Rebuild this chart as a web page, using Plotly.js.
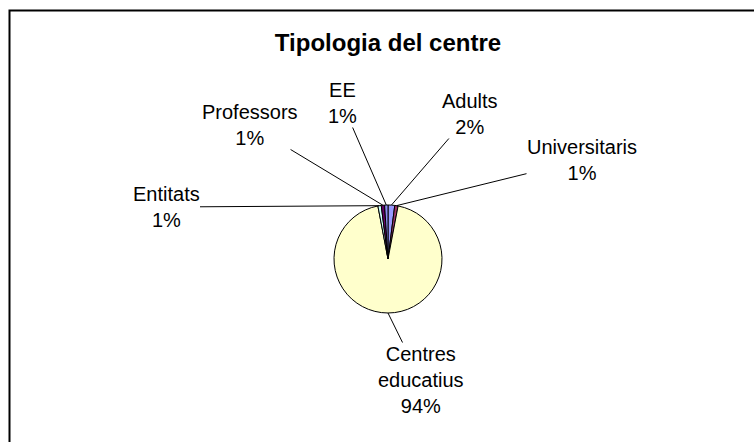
<!DOCTYPE html>
<html>
<head>
<meta charset="utf-8">
<script src="https://cdn.plot.ly/plotly-3.0.1.min.js"></script>
<style>
  html, body { margin: 0; padding: 0; background: #fff; }
  #chart { width: 754px; height: 442px; }
</style>
</head>
<body>
<div id="chart"></div>
<script>
// ---- Data ----
const categories = ["Adults", "Universitaris", "Centres educatius", "Entitats", "Professors", "EE"];
const labelText  = ["Adults", "Universitaris", "Centres<br>educatius", "Entitats", "Professors", "EE"];
const values     = [2, 1, 94, 1, 1, 1];
const sliceColors = ["#9999FF", "#993366", "#FFFFCC", "#CCFFFF", "#660066", "#8C8CF0"];
const chartTitle = "Tipologia del centre";

// ---- Layout geometry (pixels) ----
const W = 754, H = 442;
const cx = 388, cy = 259, R = 54;
// label block centres (layout positions)
const labelPos = [
  [470, 114],  // Adults
  [582, 160],  // Universitaris
  [421, 380],  // Centres educatius
  [166, 207],  // Entitats
  [250, 125],  // Professors
  [342, 103]   // EE
];

const total = values.reduce((a, b) => a + b, 0);
const annotations = [];
let cum = 0;
values.forEach((v, i) => {
  const theta = 2 * Math.PI * (cum + v / 2) / total; // clockwise from 12 o'clock
  cum += v;
  const px = cx + R * Math.sin(theta);
  const py = cy - R * Math.cos(theta);
  const pct = Math.round(100 * v / total) + "%";
  annotations.push({
    x: px / W, y: 1 - py / H, xref: "paper", yref: "paper",
    text: labelText[i] + "<br>" + pct,
    showarrow: true, arrowhead: 0, arrowwidth: 1, arrowcolor: "#000",
    standoff: 0, startstandoff: 0,
    ax: labelPos[i][0] - px, ay: labelPos[i][1] - py,
    font: { family: "Liberation Sans, Arial, sans-serif", size: 20, color: "#000" },
    align: "center", borderpad: 0
  });
});

const trace = {
  type: "pie",
  labels: categories,
  values: values,
  sort: false,
  direction: "clockwise",
  rotation: 0,
  textinfo: "none",
  hoverinfo: "label+percent",
  marker: { colors: sliceColors, line: { color: "#000", width: 1 } },
  domain: {
    x: [(cx - R) / W, (cx + R) / W],
    y: [1 - (cy + R) / H, 1 - (cy - R) / H]
  },
  showlegend: false
};

const layout = {
  width: W, height: H,
  margin: { l: 0, r: 0, t: 0, b: 0 },
  paper_bgcolor: "#fff",
  plot_bgcolor: "#fff",
  showlegend: false,
  title: {
    text: "<b>" + chartTitle + "</b>",
    x: 388 / W, xanchor: "center",
    y: 1 - 43 / H, yanchor: "middle",
    font: { family: "Liberation Sans, Arial, sans-serif", size: 24, color: "#000" }
  },
  annotations: annotations,
  shapes: [{
    type: "rect", xref: "paper", yref: "paper",
    x0: 9.5 / W, x1: 1.05, y0: -0.05, y1: 1 - 10.5 / H,
    line: { color: "#000", width: 2 }, fillcolor: "rgba(0,0,0,0)"
  }]
};

Plotly.newPlot("chart", [trace], layout, { displayModeBar: false, staticPlot: true });
</script>
</body>
</html>
